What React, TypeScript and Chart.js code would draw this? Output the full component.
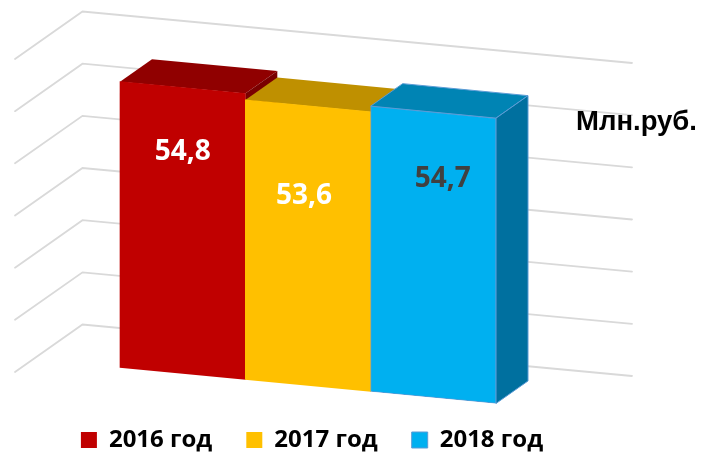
import React, { useEffect, useRef } from "react";
import { Chart, registerables } from "chart.js";

Chart.register(...registerables);

const seriesNames = ["2016 год", "2017 год", "2018 год"];
const seriesValues = [54.8, 53.6, 54.7];
const categories = [""];
const unitLabel = "Млн.руб.";
const axisMax = 60;
const axisStep = 10;

const frontColors = ["#C00000", "#FFC000", "#00B0F0"];
const topColors = ["#900000", "#BF9000", "#0084B4"];
const sideColors = ["#7A0000", "#8F6C00", "#00709F"];
const edgeColors = ["#C00000", "#FFC000", "#5B9BD5"];
const labelColors = ["#FFFFFF", "#FFFFFF", "#404040"];
const labelHeightShare = [0.774, 0.677, 0.767];
const labelShiftX = [0, -4, 9.5];

const SLOPE = 0.0957;
const DEPTH_X = 32;
const DEPTH_Y = -22.5;
const LABEL_FONT = "700 28px 'Open Sans'";

const view3d = {
  id: "view3d",
  beforeDatasetsDraw(chart: any) {
    const { ctx, scales, chartArea } = chart;
    const y = scales.y;
    const zero = y.getPixelForValue(0);
    ctx.save();
    ctx.strokeStyle = "#D9D9D9";
    ctx.lineWidth = 1.8;
    ctx.lineCap = "round";
    for (const tick of y.ticks) {
      const dy = y.getPixelForValue(tick.value) - zero;
      ctx.beginPath();
      ctx.moveTo(15, 372 + dy);
      ctx.lineTo(82.5, 324.5 + dy);
      ctx.lineTo(632, 376 + dy);
      ctx.stroke();
    }
    ctx.restore();

    const x0 = chartArea.left;
    const sk = (px: number, py: number) => py + SLOPE * (px - x0);
    // Painted back to front, left to right, so each front face covers the previous bar's side.
    seriesValues.forEach((_, i) => {
      const meta = chart.getDatasetMeta(i);
      const bar = meta.data[0];
      const { x, y: top, width, base } = bar.getProps(["x", "y", "width", "base"], true);
      const l = x - width / 2;
      const r = x + width / 2;

      ctx.save();
      ctx.lineWidth = 1;
      ctx.strokeStyle = i === 2 ? edgeColors[i] : "transparent";
      ctx.fillStyle = topColors[i];
      ctx.beginPath();
      ctx.moveTo(l, sk(l, top));
      ctx.lineTo(r, sk(r, top));
      ctx.lineTo(r + DEPTH_X, sk(r, top) + DEPTH_Y);
      ctx.lineTo(l + DEPTH_X, sk(l, top) + DEPTH_Y);
      ctx.closePath();
      ctx.fill();
      ctx.stroke();

      ctx.fillStyle = sideColors[i];
      ctx.beginPath();
      ctx.moveTo(r, sk(r, top));
      ctx.lineTo(r + DEPTH_X, sk(r, top) + DEPTH_Y);
      ctx.lineTo(r + DEPTH_X, sk(r, base) + DEPTH_Y);
      ctx.lineTo(r, sk(r, base));
      ctx.closePath();
      ctx.fill();
      ctx.stroke();
      ctx.restore();

      // Front face: the library's own bar element, sheared.
      ctx.save();
      ctx.transform(1, SLOPE, 0, 1, 0, -SLOPE * x0);
      meta.controller.draw();
      ctx.restore();
    });
    return false;
  },
  afterDraw(chart: any) {
    const { ctx, chartArea } = chart;
    ctx.save();
    ctx.textAlign = "center";
    ctx.textBaseline = "middle";
    ctx.font = LABEL_FONT;
    seriesValues.forEach((v, i) => {
      const bar = chart.getDatasetMeta(i).data[0];
      const { x, y, base } = bar.getProps(["x", "y", "base"], true);
      const ly = base + (y - base) * labelHeightShare[i] + SLOPE * (x - chartArea.left);
      ctx.fillStyle = labelColors[i];
      ctx.fillText(String(v).replace(".", ","), x + labelShiftX[i], ly);
    });
    ctx.font = "bold 27.5px 'Liberation Sans'";
    ctx.fillStyle = "#000000";
    ctx.fillText(unitLabel, 636.5, 122);
    ctx.restore();
  },
};

export default function App() {
  const ref = useRef<HTMLCanvasElement>(null);
  useEffect(() => {
    const chart = new Chart(ref.current as HTMLCanvasElement, {
      type: "bar",
      data: {
        labels: categories,
        datasets: seriesNames.map((name, i) => ({
          label: name,
          data: [seriesValues[i]],
          backgroundColor: frontColors[i],
          borderColor: edgeColors[i],
          borderWidth: i === 2 ? 1 : 0,
          borderSkipped: false,
          barPercentage: 1,
          categoryPercentage: 1,
        })),
      } as any,
      options: {
        responsive: false,
        animation: false,
        layout: { padding: { top: 54.5, left: 0, right: 77, bottom: -8 } },
        scales: {
          x: {
            display: true,
            grid: { display: false },
            border: { display: false },
            ticks: { display: false },
            afterFit: (s: any) => {
              s.height = 26.5;
            },
          },
          y: {
            display: true,
            position: "left",
            min: 0,
            max: axisMax,
            ticks: { display: false, stepSize: axisStep },
            grid: { display: false },
            border: { display: false },
            afterFit: (s: any) => {
              s.width = 120;
            },
          },
          yRight: {
            display: true,
            position: "right",
            ticks: { display: false },
            grid: { display: false },
            border: { display: false },
            afterFit: (s: any) => {
              s.width = 128;
            },
          },
        },
        plugins: {
          tooltip: { enabled: false },
          legend: {
            display: true,
            position: "bottom",
            labels: {
              boxWidth: 16,
              boxHeight: 16,
              padding: 34,
              color: "#000000",
              font: { family: "'Open Sans'", size: 24, weight: "700" },
            },
          },
        },
      } as any,
      plugins: [view3d],
    });
    return () => chart.destroy();
  }, []);
  return (
    <div style={{ position: "absolute", left: 0, top: 0, width: 701, height: 454 }}>
      <canvas ref={ref} width={701} height={454} style={{ display: "block" }} />
    </div>
  );
}
